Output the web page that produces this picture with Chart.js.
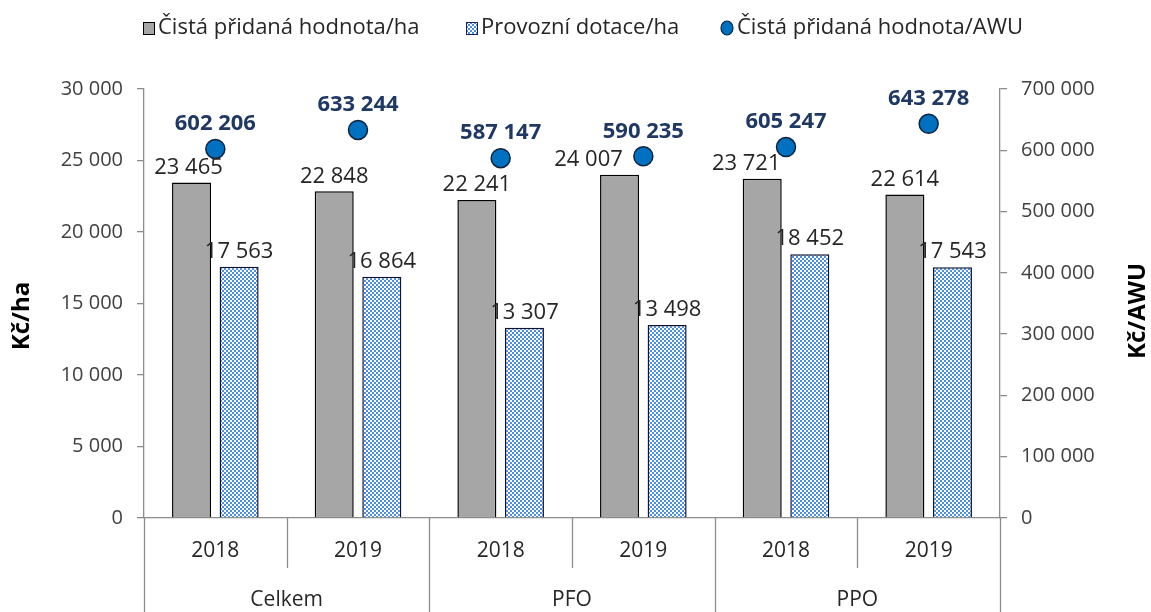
<!DOCTYPE html>
<html><head><meta charset="utf-8">
<script src="https://cdn.jsdelivr.net/npm/chart.js@4/dist/chart.umd.min.js"></script>
<style>html,body{margin:0;padding:0;background:#fff}#wrap{width:1151px;height:612px}</style>
</head><body><div id="wrap"><canvas id="c" width="1151" height="612"></canvas></div>
<script>
const groups = ['Celkem', 'PFO', 'PPO'];
const years = ['2018', '2019', '2018', '2019', '2018', '2019'];
const cphHa = [23465, 22848, 22241, 24007, 23721, 22614];
const dotaceHa = [17563, 16864, 13307, 13498, 18452, 17543];
const cphAwu = [602206, 633244, 587147, 590235, 605247, 643278];
const leftTicks = [0, 5000, 10000, 15000, 20000, 25000, 30000];
const rightTicks = [0, 100000, 200000, 300000, 400000, 500000, 600000, 700000];
const seriesNames = ['Čistá přidaná hodnota/ha', 'Provozní dotace/ha', 'Čistá přidaná hodnota/AWU'];
const leftTitle = 'Kč/ha';
const rightTitle = 'Kč/AWU';

const FONT = '"Open Sans", "Liberation Sans", sans-serif';
const fmt = v => String(v).replace(/\B(?=(\d{3})+(?!\d))/g, ' ');
// small horizontal nudges of the grey-bar value labels (to avoid the markers), in px
const greyLabelNudge = [-3, 0, 0, -31, -16, 0];

function makePattern() {
  const p = document.createElement('canvas');
  p.width = 4; p.height = 4;
  const g = p.getContext('2d');
  g.fillStyle = '#ffffff'; g.fillRect(0, 0, 4, 4);
  g.fillStyle = '#4a8fe4';
  g.fillRect(0, 0, 2, 2); g.fillRect(2, 2, 2, 2);
  return document.getElementById('c').getContext('2d').createPattern(p, 'repeat');
}
const pattern = makePattern();

const labelsPlugin = {
  id: 'customDraw',
  afterDatasetsDraw(chart) {
    const ctx = chart.ctx;
    ctx.save();
    ctx.textAlign = 'center';
    ctx.textBaseline = 'middle';
    chart.data.datasets.forEach((ds, i) => {
      const meta = chart.getDatasetMeta(i);
      meta.data.forEach((el, j) => {
        if (ds.type === 'line') {
          ctx.font = 'bold 22px ' + FONT;
          ctx.fillStyle = '#1f3864';
          ctx.fillText(fmt(ds.data[j]), el.x, el.y - 25);
        } else {
          ctx.font = '22px ' + FONT;
          ctx.fillStyle = '#262626';
          const dx = i === 1 ? greyLabelNudge[j] : 0;
          ctx.fillText(fmt(ds.data[j]), el.x + dx, el.y - 15);
        }
      });
    });
    ctx.restore();
  },
  afterDraw(chart) {
    const ctx = chart.ctx;
    const ca = chart.chartArea;
    const xs = chart.scales.x;
    const H = chart.height;
    ctx.save();
    ctx.strokeStyle = '#8c8c8c';
    ctx.lineWidth = 1.3;
    const n = years.length;
    const step = (ca.right - ca.left) / n;
    for (let k = 0; k <= n; k++) {
      const x = Math.round(ca.left + k * step) + 0.5;
      ctx.beginPath();
      ctx.moveTo(x, ca.bottom);
      ctx.lineTo(x, k % 2 === 0 ? H : ca.bottom + 50);
      ctx.stroke();
    }
    ctx.fillStyle = '#262626';
    ctx.font = '21px ' + FONT;
    ctx.textAlign = 'center';
    ctx.textBaseline = 'middle';
    years.forEach((y, i) => ctx.fillText(y, xs.getPixelForValue(i), ca.bottom + 33));
    groups.forEach((g, i) => {
      const x = (xs.getPixelForValue(2 * i) + xs.getPixelForValue(2 * i + 1)) / 2;
      ctx.fillText(g, x, ca.bottom + 82);
    });
    ctx.fillStyle = '#000';
    ctx.save();
    ctx.font = 'bold 24px ' + FONT;
    ctx.translate(22, 316);
    ctx.rotate(-Math.PI / 2);
    ctx.fillText(leftTitle, 0, 0);
    ctx.restore();
    ctx.save();
    ctx.font = 'bold 24px ' + FONT;
    ctx.translate(1138, 311);
    ctx.rotate(-Math.PI / 2);
    ctx.fillText(rightTitle, 0, 0);
    ctx.restore();
    // legend
    ctx.font = '22px ' + FONT;
    ctx.textAlign = 'left';
    const ly = 28;
    let x = 143;
    ctx.fillStyle = '#a6a6a6'; ctx.fillRect(x, ly - 6, 11, 12);
    ctx.strokeStyle = '#000'; ctx.lineWidth = 1; ctx.strokeRect(x + 0.5, ly - 5.5, 11, 12);
    ctx.fillStyle = '#262626'; ctx.fillText(seriesNames[0], x + 15, ly);
    x = 466;
    ctx.fillStyle = pattern; ctx.fillRect(x, ly - 6, 11, 12);
    ctx.strokeStyle = '#1f1f5f'; ctx.strokeRect(x + 0.5, ly - 5.5, 11, 12);
    ctx.fillStyle = '#262626'; ctx.fillText(seriesNames[1], x + 15, ly);
    x = 721;
    ctx.beginPath(); ctx.ellipse(x + 6, ly, 6, 7, 0, 0, Math.PI * 2);
    ctx.fillStyle = '#0070c0'; ctx.fill(); ctx.strokeStyle = '#10243e'; ctx.lineWidth = 1.2; ctx.stroke();
    ctx.fillStyle = '#262626'; ctx.fillText(seriesNames[2], x + 16, ly);
    ctx.restore();
  }
};

new Chart(document.getElementById('c'), {
  data: {
    labels: years,
    datasets: [
      { type: 'line', label: seriesNames[2], data: cphAwu, yAxisID: 'y1', showLine: false,
        pointRadius: 9.5, pointHoverRadius: 9.5, pointBackgroundColor: '#0070c0',
        pointBorderColor: '#10243e', pointBorderWidth: 1.5, order: 0 },
      { type: 'bar', label: seriesNames[0], data: cphHa, yAxisID: 'y', backgroundColor: '#a6a6a6',
        borderColor: '#000000', borderWidth: 1.5, categoryPercentage: 0.667, barPercentage: 0.82, order: 1 },
      { type: 'bar', label: seriesNames[1], data: dotaceHa, yAxisID: 'y', backgroundColor: pattern,
        borderColor: '#111133', borderWidth: 1.5, categoryPercentage: 0.667, barPercentage: 0.82, order: 1 }
    ]
  },
  options: {
    responsive: false,
    animation: false,
    events: [],
    layout: { padding: { top: 89, left: 0, right: 0, bottom: 0 } },
    plugins: { legend: { display: false }, tooltip: { enabled: false } },
    scales: {
      x: {
        offset: true,
        ticks: { display: false },
        grid: { display: false },
        border: { display: true, color: '#8c8c8c', width: 1.3 },
        afterFit(s) { s.height = 94; }
      },
      y: {
        position: 'left', min: 0, max: 30000,
        afterBuildTicks(s) { s.ticks = leftTicks.map(v => ({ value: v })); },
        ticks: { padding: 14, color: '#404040', font: { family: FONT, size: 20 }, callback: v => fmt(v) },
        grid: { drawOnChartArea: false, tickLength: 7, color: '#8c8c8c', lineWidth: 1.3 },
        border: { color: '#8c8c8c', width: 1.3 },
        afterFit(s) { s.width = 144; }
      },
      y1: {
        position: 'right', min: 0, max: 700000,
        afterBuildTicks(s) { s.ticks = rightTicks.map(v => ({ value: v })); },
        ticks: { padding: 14, color: '#404040', font: { family: FONT, size: 20 }, callback: v => fmt(v) },
        grid: { drawOnChartArea: false, tickLength: 7, color: '#8c8c8c', lineWidth: 1.3 },
        border: { color: '#8c8c8c', width: 1.3 },
        afterFit(s) { s.width = 151; }
      }
    }
  },
  plugins: [labelsPlugin]
});
</script></body></html>
